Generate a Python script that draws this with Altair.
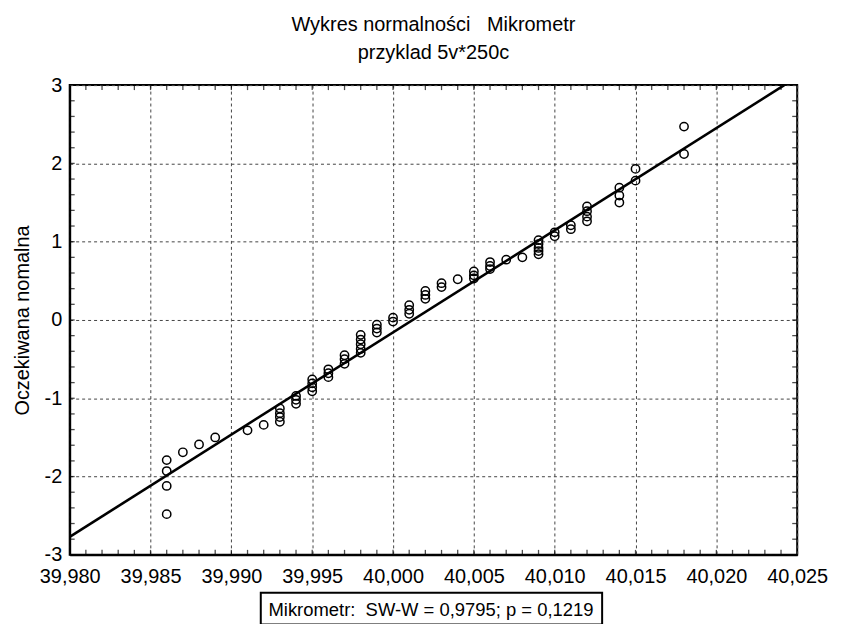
import altair as alt
import pandas as pd

# observed values (Mikrometr) and their expected normal scores
x_values = [
    39.986, 39.986, 39.986, 39.986,
    39.987, 39.988, 39.989, 39.991, 39.992,
    39.993, 39.993, 39.993, 39.993,
    39.994, 39.994, 39.994,
    39.995, 39.995, 39.995, 39.995,
    39.996, 39.996, 39.996,
    39.997, 39.997, 39.997,
    39.998, 39.998, 39.998, 39.998, 39.998,
    39.999, 39.999, 39.999,
    40.000, 40.000,
    40.001, 40.001, 40.001,
    40.002, 40.002, 40.002,
    40.003, 40.003,
    40.004,
    40.005, 40.005, 40.005,
    40.006, 40.006, 40.006,
    40.007, 40.008,
    40.009, 40.009, 40.009, 40.009, 40.009,
    40.010, 40.010,
    40.011, 40.011,
    40.012, 40.012, 40.012, 40.012,
    40.014, 40.014, 40.014,
    40.015, 40.015,
    40.018, 40.018,
]
y_scores = [
    -1.79, -1.93, -2.12, -2.48,
    -1.69, -1.59, -1.50, -1.41, -1.34,
    -1.13, -1.19, -1.24, -1.30,
    -0.97, -1.02, -1.07,
    -0.76, -0.81, -0.86, -0.91,
    -0.63, -0.68, -0.73,
    -0.45, -0.50, -0.56,
    -0.19, -0.25, -0.31, -0.37, -0.42,
    -0.06, -0.11, -0.16,
    0.03, -0.02,
    0.19, 0.13, 0.08,
    0.37, 0.32, 0.27,
    0.47, 0.42,
    0.52,
    0.62, 0.57, 0.53,
    0.74, 0.69, 0.65,
    0.77, 0.80,
    1.02, 0.97, 0.92, 0.88, 0.84,
    1.12, 1.07,
    1.21, 1.16,
    1.45, 1.39, 1.32, 1.26,
    1.69, 1.59, 1.50,
    1.93, 1.78,
    2.47, 2.12,
]

fit_x = [39.980, 40.0242]
fit_y = [-2.77, 3.0]

x_major = [39.980, 39.985, 39.990, 39.995, 40.000, 40.005, 40.010, 40.015, 40.020, 40.025]
y_major = [-3, -2, -1, 0, 1, 2, 3]
x_minor = [round(39.980 + 0.001 * i, 3) for i in range(1, 45)]
y_minor = [round(-3 + 0.2 * i, 1) for i in range(1, 30)]

title_lines = ["Wykres normalności\u00a0\u00a0 Mikrometr", "przyklad 5v*250c"]
y_title = "Oczekiwana nomalna"
note_text = ["Mikrometr:\u00a0 SW-W = 0,9795; p = 0,1219"]

FONT = "Liberation Sans"
W, H = 731, 472

pts = pd.DataFrame({"x": x_values, "y": y_scores})
fit = pd.DataFrame({"x": fit_x, "y": fit_y})

xs = alt.Scale(domain=[39.980, 40.025], nice=False, zero=False)
ys = alt.Scale(domain=[-3, 3], nice=False, zero=False)

common_axis = dict(
    grid=True,
    ticks=False,
    labelOverlap=False,
    domainColor="black",
    domainWidth=2,
    gridColor="#444444",
    gridDash=[3, 3],
    gridWidth=1,
    gridOpacity=1,
    labelFont=FONT,
    labelFontSize=20,
    labelColor="black",
    titleFont=FONT,
    titleFontSize=20,
    titleFontWeight="normal",
    titleColor="black",
)

x_axis = alt.Axis(
    values=x_major,
    labelExpr="replace(format(datum.value, '.3f'), '.', ',')",
    title=None,
    labelPadding=12,
    labelFlush=False,
    **common_axis,
)
y_axis = alt.Axis(
    values=y_major,
    labelExpr="datum.value + ''",
    title=y_title,
    labelPadding=8,
    labelFlush=False,
    titleX=-47,
    titleY=236,
    titleAngle=270,
    titleAlign="center",
    titleBaseline="middle",
    **common_axis,
)

points = alt.Chart(pts).mark_point(
    shape="circle", filled=False, size=70, stroke="black", strokeWidth=1.5, opacity=1
).encode(
    x=alt.X("x:Q", scale=xs, axis=x_axis),
    y=alt.Y("y:Q", scale=ys, axis=y_axis),
)

line = alt.Chart(fit).mark_line(color="black", strokeWidth=2.6, clip=True).encode(
    x=alt.X("x:Q", scale=xs),
    y=alt.Y("y:Q", scale=ys),
)

xm = pd.DataFrame({"v": x_minor})
ym = pd.DataFrame({"v": y_minor})
tick_style = dict(color="black", thickness=1.3, size=5)

bottom_ticks = alt.Chart(xm).mark_tick(orient="vertical", yOffset=-2.5, **tick_style).encode(
    x=alt.X("v:Q", scale=xs), y=alt.value(H)
)
top_ticks = alt.Chart(xm).mark_tick(orient="vertical", yOffset=2.5, **tick_style).encode(
    x=alt.X("v:Q", scale=xs), y=alt.value(0)
)
left_ticks = alt.Chart(ym).mark_tick(orient="horizontal", xOffset=2.5, **tick_style).encode(
    y=alt.Y("v:Q", scale=ys), x=alt.value(0)
)
right_ticks = alt.Chart(ym).mark_tick(orient="horizontal", xOffset=-2.5, **tick_style).encode(
    y=alt.Y("v:Q", scale=ys), x=alt.value(W)
)

note_df = pd.DataFrame({"t": note_text})
note_box = alt.Chart(note_df).mark_rect(fill="white", stroke="black", strokeWidth=2).encode(
    x=alt.value(192), x2=alt.value(535), y=alt.value(510), y2=alt.value(542)
)
note = alt.Chart(note_df).mark_text(
    font=FONT, fontSize=18.5, color="black", align="center", baseline="middle"
).encode(x=alt.value(363), y=alt.value(527), text="t:N")

chart = alt.layer(
    points, line, bottom_ticks, top_ticks, left_ticks, right_ticks, note_box, note
).properties(
    width=W,
    height=H,
    background="white",
    title=alt.TitleParams(
        text=title_lines,
        font=FONT,
        fontSize=20,
        fontWeight="normal",
        color="black",
        anchor="middle",
        lineHeight=28,
        offset=12,
    ),
    padding={"left": 62, "top": 76, "right": 40, "bottom": 68},
    autosize=alt.AutoSizeParams(type="none"),
).configure_view(
    stroke="black", strokeWidth=2
)

chart.save("out.html", embed_options={"renderer": "svg", "actions": False})
